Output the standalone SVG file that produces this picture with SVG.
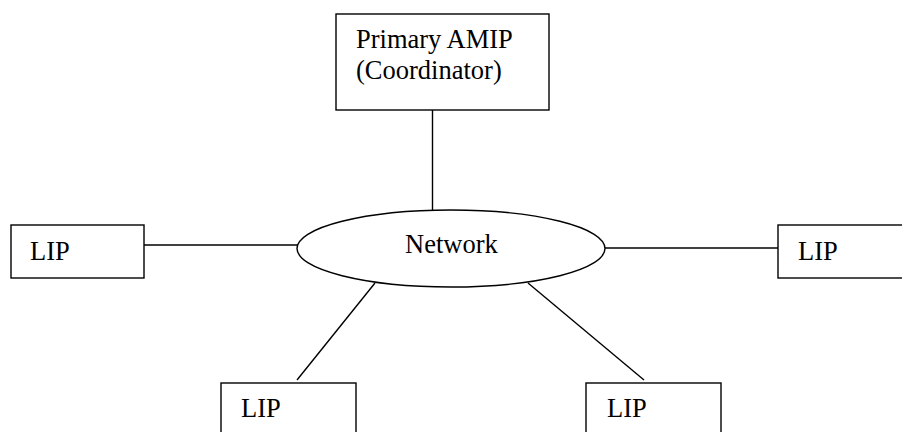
<svg xmlns="http://www.w3.org/2000/svg" width="902" height="432" viewBox="0 0 902 432">
<style>
.box{fill:#fff;stroke:#000;stroke-width:1.4}
.lbl{font-family:"Liberation Serif","Times New Roman",serif;font-size:26.5px;fill:#000}
.con line{stroke:#000;stroke-width:1.4}
</style>
<rect width="902" height="432" fill="#fff"/>
<g id="connectors" class="con">
<line x1="432.5" y1="110" x2="432.5" y2="210"/>
<line x1="144" y1="245" x2="298" y2="245"/>
<line x1="605" y1="248" x2="778" y2="248"/>
<line x1="375" y1="283" x2="297" y2="380"/>
<line x1="528" y1="283" x2="644" y2="380"/>
</g>
<g id="primary">
<rect class="box" x="336" y="14" width="213" height="96"/>
<text class="lbl" x="356" y="48">Primary AMIP</text>
<text class="lbl" x="356" y="79">(Coordinator)</text>
</g>
<g id="network">
<ellipse class="box" cx="451" cy="248.5" rx="154" ry="38.5"/>
<text class="lbl" x="405" y="253">Network</text>
</g>
<g id="lip-left">
<rect class="box" x="11" y="225" width="133" height="53"/>
<text class="lbl" x="30" y="260">LIP</text>
</g>
<g id="lip-right">
<rect class="box" x="778" y="225" width="130" height="53"/>
<text class="lbl" x="798" y="260">LIP</text>
</g>
<g id="lip-bottom-left">
<rect class="box" x="221" y="383" width="135" height="60"/>
<text class="lbl" x="241" y="417">LIP</text>
</g>
<g id="lip-bottom-right">
<rect class="box" x="586" y="383" width="135" height="60"/>
<text class="lbl" x="607" y="417">LIP</text>
</g>
</svg>
